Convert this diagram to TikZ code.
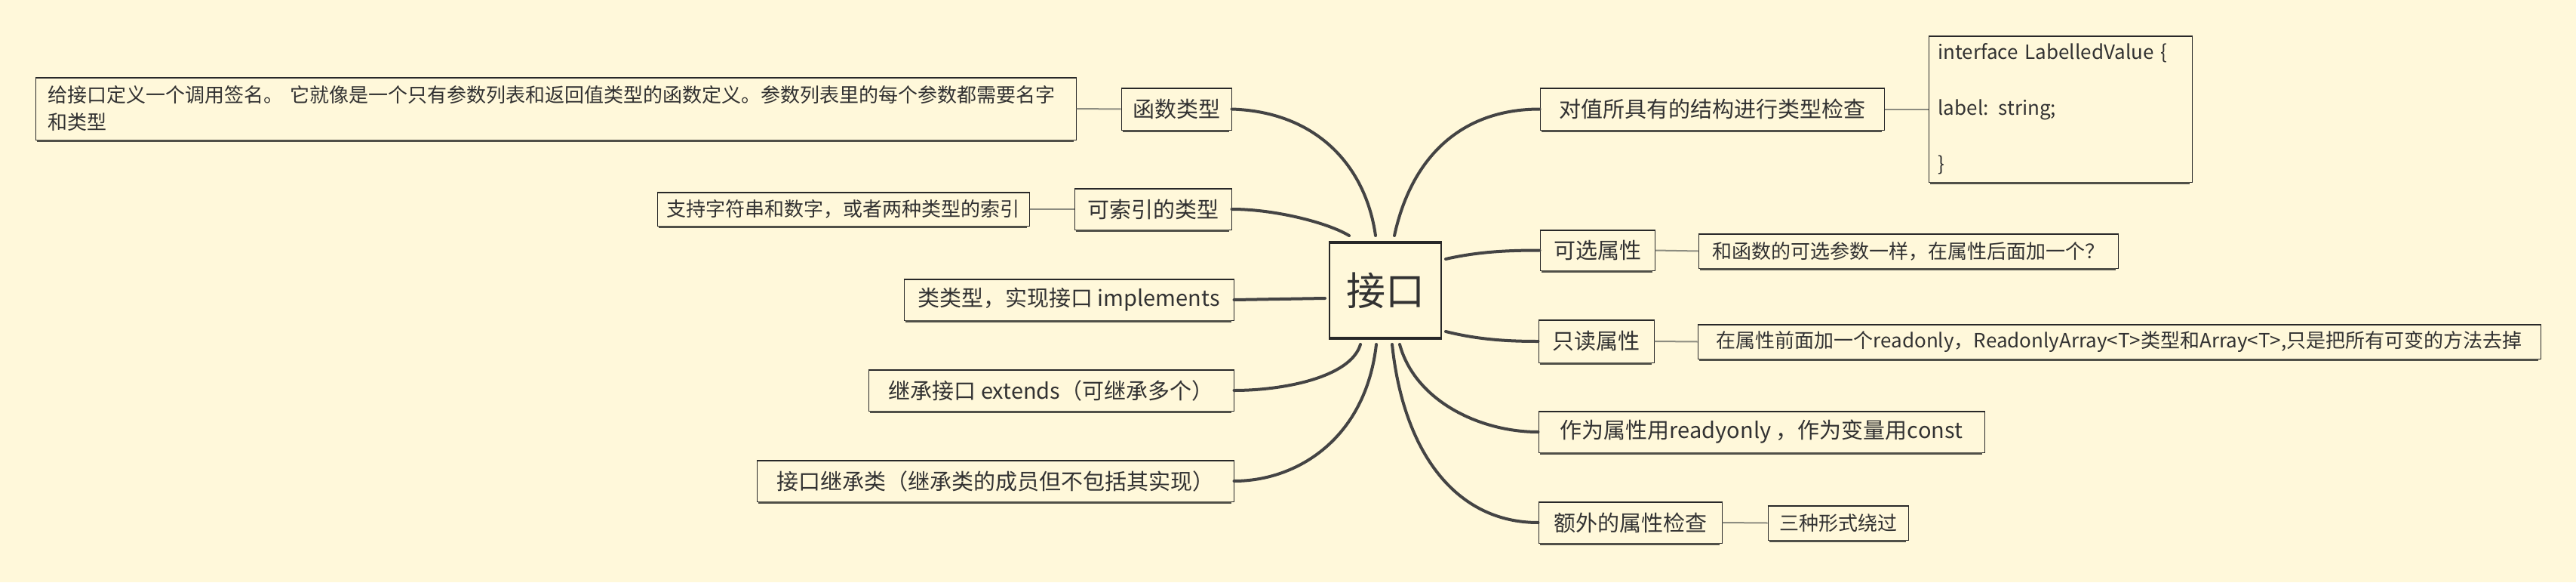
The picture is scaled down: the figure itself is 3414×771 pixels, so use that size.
\documentclass[tikz,border=0pt]{standalone}
\usepackage{fontspec}
\setmainfont{Noto Sans CJK SC}
\usetikzlibrary{calc}
\definecolor{bg}{RGB}{255,248,218}
\definecolor{txt}{RGB}{50,50,50}
\definecolor{curvec}{RGB}{68,68,68}
\definecolor{boxc}{RGB}{40,40,40}
\definecolor{shadc}{RGB}{80,80,72}
\definecolor{twigc}{RGB}{140,140,128}
\begin{document}
\begin{tikzpicture}[x=0.5pt,y=-0.5pt,
  box/.style={draw=boxc, line width=0.5pt, inner sep=0pt, text=txt, fill=bg},
  lvone/.style={box, minimum height=27pt, font=\fontsize{14.5}{17}\selectfont},
  lvtwo/.style={box, minimum height=22.5pt, font=\fontsize{13}{16}\selectfont},
  trunk/.style={draw=curvec, line width=2pt, line cap=round},
  twig/.style={draw=twigc, line width=1pt},
  topedge/.style={draw=boxc, line width=1pt},
  botedge/.style={draw=shadc, line width=1.3pt}]
\fill[bg] (0,0) rectangle (3414,771);
\useasboundingbox (0,0) rectangle (3414,771);

% central topic
\node[box, line width=1pt, minimum width=74pt, minimum height=62.5pt,
      font=\fontsize{26}{30}\selectfont] (C) at (1836,384.5) {接口};

% left main topics
\node[lvone, minimum width=73pt, minimum height=27.5pt] (L1) at (1559,144.5) {函数类型};
\node[lvone, minimum width=104pt] (L2) at (1528,277) {可索引的类型};
\node[lvone, minimum width=218.5pt] (L3) at (1416.5,397) {类类型，实现接口 implements};
\node[lvone, minimum width=242pt] (L4) at (1393,517) {继承接口 extends（可继承多个）};
\node[lvone, minimum width=316pt] (L5) at (1319,637) {接口继承类（继承类的成员但不包括其实现）};

% right main topics
\node[lvone, minimum width=228pt, minimum height=27.5pt] (R1) at (2269,144.5) {对值所具有的结构进行类型检查};
\node[lvone, minimum width=76pt, minimum height=26.5pt] (R2) at (2117,331.5) {可选属性};
\node[lvone, minimum width=76.5pt, minimum height=28pt] (R3) at (2115.5,452) {只读属性};
\node[lvone, minimum width=295.5pt] (R4) at (2334.5,572) {作为属性用readyonly ，作为变量用const};
\node[lvone, minimum width=121.5pt] (R5) at (2160.5,692) {额外的属性检查};

% sub topics
\node[lvtwo, minimum width=689.5pt, minimum height=41pt, text width=673pt,
      inner xsep=8.25pt, align=left, font=\fontsize{13}{18}\selectfont] (NL1) at (736.5,144)
  {\mbox{给接口定义一个调用签名。 它就像是一个只有参数列表和返回值类型的函数定义。参数列表里的每个参数都需要名字}\\和类型};
\node[lvtwo, minimum width=246.5pt, minimum height=22pt] (NL2) at (1117.5,277) {支持字符串和数字，或者两种类型的索引};
\node[lvtwo, minimum width=174.5pt, minimum height=96.5pt, text width=162pt,
      inner xsep=6.25pt, align=left, font=\fontsize{13}{18.5}\selectfont] (NR1) at (2730.5,144.5)
  {\mbox{interface LabelledValue \{}\\\mbox{}\\\mbox{label: string;}\\\mbox{}\\\}};
\node[lvtwo, minimum width=278pt] (NR2) at (2529,332.5) {和函数的可选参数一样，在属性后面加一个？};
\node[lvtwo, minimum width=558.5pt] (NR3) at (2808.5,452.5) {在属性前面加一个readonly，ReadonlyArray<T>类型和Array<T>,只是把所有可变的方法去掉};
\node[lvtwo, minimum width=93pt] (NR5) at (2436,692.5) {三种形式绕过};

% hand-drawn looking top / bottom edges
\foreach \n in {L1,L2,L3,L4,L5,R1,R2,R3,R4,R5,NL1,NL2,NR1,NR2,NR3,NR5}{
  \draw[topedge] (\n.north west) -- (\n.north east);
  \draw[botedge] ($(\n.south west)+(2,1)$) -- ($(\n.south east)+(-4,1)$);
}
\draw[boxc, line width=1.6pt] (C.north west) -- (C.north east);
\draw[boxc, line width=1.6pt] (C.south west) -- (C.south east);

% branches from the centre
\draw[trunk] ($(C.north)+(-13,-9)$) .. controls (1810,220) and (1745,148) .. (L1.east);
\draw[trunk] ($(C.north)+(-48,-9)$) .. controls (1760,295) and (1690,277) .. (L2.east);
\draw[trunk] ($(C.west)+(-5,10.5)$) -- (L3.east);
\draw[trunk] ($(C.south)+(-33,8)$) .. controls (1790,500) and (1700,517) .. (L4.east);
\draw[trunk] ($(C.south)+(-12,8)$) .. controls (1810,580) and (1720,637) .. (L5.east);
\draw[trunk] ($(C.north)+(12,-9)$) .. controls (1870,210) and (1935,144.5) .. (R1.west);
\draw[trunk] ($(C.east)+(5,-41.5)$) .. controls (1960,333) and (2000,331.5) .. (R2.west);
\draw[trunk] ($(C.east)+(5,54.5)$) .. controls (1960,450) and (2000,452) .. (R3.west);
\draw[trunk] ($(C.south)+(19,8)$) .. controls (1875,530) and (1960,572) .. (R4.west);
\draw[trunk] ($(C.south)+(9,8)$) .. controls (1860,600) and (1930,692) .. (R5.west);

% links to sub topics
\draw[twig] (NL1.east) -- (L1.west);
\draw[twig] (NL2.east) -- (L2.west);
\draw[twig] (R1.east) -- (NR1.west);
\draw[twig] (R2.east) -- (NR2.west);
\draw[twig] (R3.east) -- (NR3.west);
\draw[twig] (R5.east) -- (NR5.west);
\end{tikzpicture}
\end{document}
